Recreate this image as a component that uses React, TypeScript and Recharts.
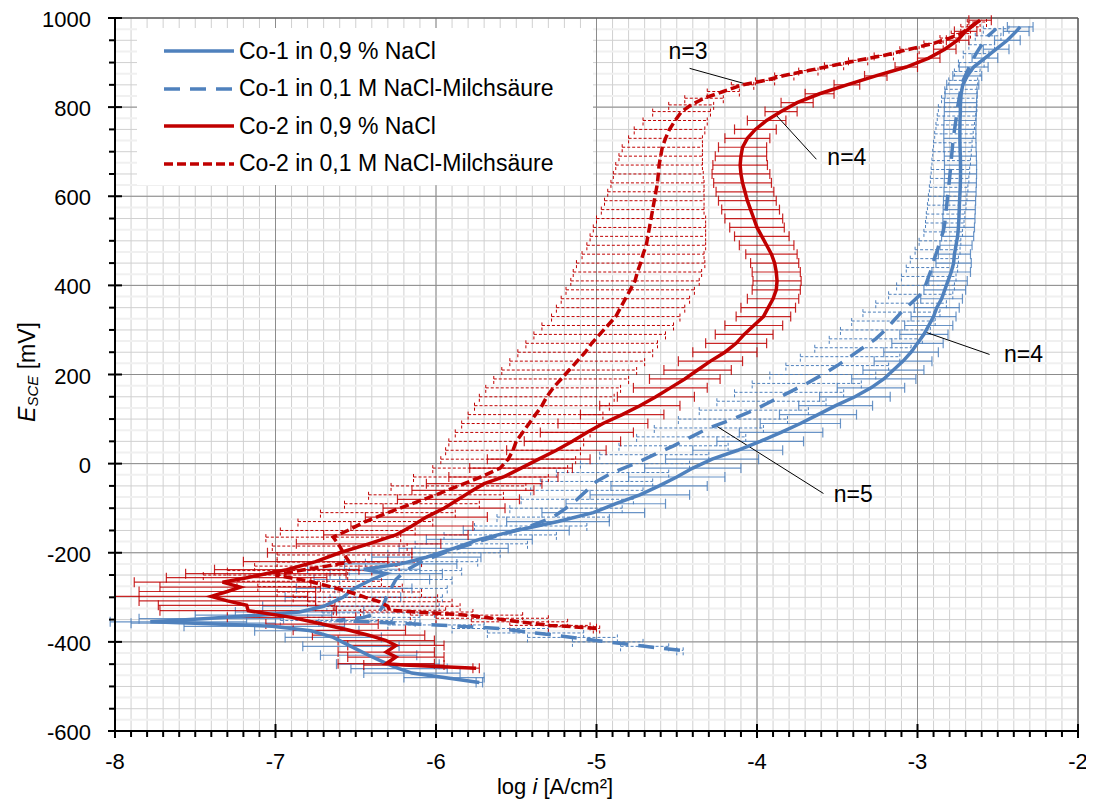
import React from 'react';
import {
  ScatterChart,
  Scatter,
  XAxis,
  YAxis,
  CartesianGrid,
  ErrorBar,
  ReferenceLine,
  ReferenceDot,
} from 'recharts';

const BLUE = '#4F81BD';
const RED = '#C00000';

// rows: [E_SCE in mV, log i, error minus, error plus]
type Row = [number, number, number, number];

const co1Nacl: Row[] = [
  [-491, -5.73, 0.02, 0.02], [-480, -5.95, 0.25, 0.25], [-470, -6.15, 0.3, 0.3], [-460, -6.23, 0.3, 0.3],
  [-450, -6.3, 0.32, 0.32], [-430, -6.42, 0.3, 0.3], [-410, -6.53, 0.3, 0.3], [-390, -6.64, 0.3, 0.3],
  [-375, -6.78, 0.35, 0.3], [-365, -7.02, 0.55, 0.45], [-358, -7.5, 0.4, 0.5], [-355, -7.78, 0.25, 0.6],
  [-348, -7.45, 0.4, 0.5], [-340, -7.1, 0.4, 0.45], [-333, -6.85, 0.4, 0.4], [-320, -6.7, 0.38, 0.38],
  [-300, -6.58, 0.36, 0.36], [-280, -6.51, 0.36, 0.36], [-260, -6.4, 0.36, 0.36], [-247, -6.31, 0.35, 0.35],
  [-237, -6.45, 0.35, 0.35], [-225, -6.22, 0.35, 0.35], [-210, -6.06, 0.34, 0.34], [-190, -5.89, 0.34, 0.34],
  [-170, -5.73, 0.33, 0.33], [-150, -5.5, 0.33, 0.33], [-130, -5.24, 0.32, 0.32], [-110, -5.02, 0.32, 0.32],
  [-90, -4.88, 0.31, 0.31], [-70, -4.73, 0.31, 0.31], [-50, -4.61, 0.3, 0.3], [-30, -4.5, 0.3, 0.3],
  [-10, -4.4, 0.3, 0.3], [10, -4.28, 0.29, 0.29], [30, -4.12, 0.28, 0.28], [50, -3.98, 0.27, 0.27],
  [70, -3.85, 0.26, 0.26], [90, -3.73, 0.25, 0.25], [110, -3.62, 0.24, 0.24], [130, -3.51, 0.23, 0.23],
  [150, -3.39, 0.22, 0.22], [170, -3.29, 0.21, 0.21], [190, -3.21, 0.2, 0.2], [210, -3.15, 0.19, 0.19],
  [230, -3.09, 0.18, 0.18], [250, -3.04, 0.17, 0.17], [270, -3.0, 0.16, 0.16], [290, -2.96, 0.15, 0.15],
  [310, -2.93, 0.15, 0.15], [330, -2.9, 0.14, 0.14], [350, -2.88, 0.14, 0.14], [370, -2.85, 0.13, 0.13],
  [390, -2.83, 0.13, 0.13], [410, -2.81, 0.12, 0.12], [430, -2.79, 0.12, 0.12], [450, -2.775, 0.11, 0.11],
  [470, -2.77, 0.1, 0.1], [490, -2.76, 0.1, 0.1], [510, -2.75, 0.1, 0.1], [530, -2.745, 0.1, 0.1],
  [550, -2.742, 0.1, 0.1], [570, -2.74, 0.1, 0.1], [590, -2.738, 0.1, 0.1], [610, -2.735, 0.1, 0.1],
  [630, -2.733, 0.1, 0.1], [650, -2.732, 0.1, 0.1], [670, -2.732, 0.1, 0.1], [690, -2.733, 0.1, 0.1],
  [710, -2.735, 0.1, 0.1], [730, -2.736, 0.1, 0.1], [750, -2.736, 0.1, 0.1], [770, -2.735, 0.1, 0.1],
  [790, -2.733, 0.1, 0.1], [810, -2.732, 0.1, 0.1], [830, -2.728, 0.1, 0.1], [850, -2.718, 0.1, 0.1],
  [870, -2.69, 0.09, 0.09], [890, -2.65, 0.09, 0.09], [910, -2.58, 0.08, 0.08], [930, -2.51, 0.08, 0.08],
  [950, -2.44, 0.08, 0.08], [970, -2.385, 0.08, 0.08], [980, -2.36, 0.08, 0.08],
];

const co1Milch: Row[] = [
  [-419, -4.48, 0.02, 0.02], [-410, -4.7, 0.15, 0.15], [-400, -4.93, 0.22, 0.22], [-390, -5.15, 0.28, 0.28],
  [-380, -5.38, 0.3, 0.3], [-370, -5.6, 0.3, 0.3], [-362, -6.0, 0.3, 0.3], [-355, -6.43, 0.3, 0.3],
  [-352, -6.62, 0.35, 0.35], [-345, -6.45, 0.35, 0.35], [-335, -6.36, 0.35, 0.35], [-320, -6.33, 0.35, 0.35],
  [-300, -6.31, 0.35, 0.35], [-280, -6.28, 0.35, 0.35], [-260, -6.25, 0.35, 0.35], [-240, -6.19, 0.35, 0.35],
  [-220, -6.09, 0.35, 0.35], [-200, -5.95, 0.35, 0.35], [-180, -5.78, 0.35, 0.35], [-160, -5.6, 0.35, 0.35],
  [-140, -5.41, 0.35, 0.35], [-120, -5.27, 0.35, 0.35], [-100, -5.19, 0.35, 0.35], [-80, -5.12, 0.35, 0.35],
  [-60, -5.06, 0.35, 0.35], [-40, -5.0, 0.35, 0.35], [-20, -4.9, 0.35, 0.35], [0, -4.76, 0.34, 0.34],
  [20, -4.64, 0.34, 0.34], [40, -4.52, 0.34, 0.34], [60, -4.41, 0.34, 0.34], [80, -4.3, 0.34, 0.34],
  [100, -4.15, 0.34, 0.34], [120, -4.02, 0.34, 0.34], [140, -3.91, 0.34, 0.34], [160, -3.8, 0.34, 0.34],
  [180, -3.69, 0.34, 0.34], [200, -3.59, 0.33, 0.33], [220, -3.5, 0.32, 0.32], [240, -3.42, 0.31, 0.31],
  [260, -3.34, 0.3, 0.3], [280, -3.26, 0.29, 0.29], [300, -3.2, 0.28, 0.28], [320, -3.15, 0.26, 0.26],
  [340, -3.1, 0.24, 0.24], [360, -3.04, 0.22, 0.22], [380, -2.98, 0.2, 0.2], [400, -2.95, 0.18, 0.18],
  [420, -2.93, 0.17, 0.17], [440, -2.91, 0.16, 0.16], [460, -2.895, 0.15, 0.15], [480, -2.875, 0.14, 0.14],
  [500, -2.86, 0.13, 0.13], [520, -2.84, 0.12, 0.12], [540, -2.83, 0.12, 0.12], [560, -2.825, 0.12, 0.12],
  [580, -2.818, 0.12, 0.12], [600, -2.812, 0.12, 0.12], [620, -2.806, 0.12, 0.12], [640, -2.8, 0.12, 0.12],
  [660, -2.795, 0.12, 0.12], [680, -2.79, 0.12, 0.12], [700, -2.785, 0.12, 0.12], [720, -2.78, 0.12, 0.12],
  [740, -2.773, 0.12, 0.12], [760, -2.765, 0.12, 0.12], [780, -2.757, 0.12, 0.12], [800, -2.75, 0.12, 0.12],
  [820, -2.74, 0.11, 0.11], [840, -2.73, 0.1, 0.1], [860, -2.715, 0.09, 0.09], [880, -2.69, 0.08, 0.08],
  [900, -2.665, 0.08, 0.08], [920, -2.635, 0.08, 0.08], [940, -2.6, 0.08, 0.08], [960, -2.56, 0.08, 0.08],
  [976, -2.51, 0.08, 0.08],
];

const co2Nacl: Row[] = [
  [-459, -5.75, 0.02, 0.02], [-452, -6.2, 0.25, 0.25], [-449, -6.31, 0.3, 0.3], [-434, -6.25, 0.3, 0.3],
  [-423, -6.31, 0.3, 0.3], [-408, -6.25, 0.3, 0.3], [-397, -6.31, 0.3, 0.3], [-385, -6.42, 0.35, 0.35],
  [-374, -6.54, 0.35, 0.35], [-360, -6.71, 0.35, 0.35], [-345, -6.9, 0.4, 0.4], [-330, -7.17, 0.55, 0.55],
  [-318, -7.18, 0.55, 0.55], [-308, -7.3, 0.55, 0.55], [-298, -7.4, 0.6, 0.6], [-287, -7.3, 0.55, 0.55],
  [-277, -7.22, 0.5, 0.5], [-266, -7.33, 0.55, 0.55], [-256, -7.18, 0.5, 0.5], [-247, -7.06, 0.5, 0.5],
  [-238, -6.93, 0.45, 0.45], [-220, -6.75, 0.45, 0.45], [-200, -6.6, 0.45, 0.45], [-180, -6.42, 0.45, 0.45],
  [-160, -6.25, 0.45, 0.45], [-140, -6.15, 0.38, 0.38], [-120, -6.06, 0.38, 0.38], [-100, -5.95, 0.38, 0.38],
  [-80, -5.86, 0.38, 0.38], [-60, -5.77, 0.38, 0.38], [-45, -5.7, 0.36, 0.36], [-30, -5.58, 0.34, 0.34],
  [-10, -5.47, 0.32, 0.32], [10, -5.36, 0.32, 0.32], [30, -5.25, 0.31, 0.31], [50, -5.15, 0.3, 0.3],
  [70, -5.06, 0.29, 0.29], [90, -4.96, 0.28, 0.28], [110, -4.84, 0.26, 0.26], [130, -4.73, 0.25, 0.25],
  [150, -4.63, 0.24, 0.24], [170, -4.54, 0.23, 0.23], [190, -4.45, 0.22, 0.22], [210, -4.37, 0.21, 0.21],
  [230, -4.29, 0.2, 0.2], [250, -4.2, 0.2, 0.2], [270, -4.13, 0.19, 0.19], [290, -4.08, 0.18, 0.18],
  [310, -4.02, 0.18, 0.18], [330, -3.96, 0.17, 0.17], [350, -3.93, 0.17, 0.17], [370, -3.9, 0.16, 0.16],
  [390, -3.88, 0.15, 0.15], [410, -3.875, 0.15, 0.15], [430, -3.88, 0.15, 0.15], [450, -3.89, 0.15, 0.15],
  [470, -3.91, 0.16, 0.16], [490, -3.94, 0.17, 0.17], [510, -3.97, 0.17, 0.17], [530, -4.0, 0.17, 0.17],
  [550, -4.02, 0.18, 0.18], [570, -4.04, 0.18, 0.18], [590, -4.06, 0.18, 0.18], [610, -4.075, 0.18, 0.18],
  [630, -4.09, 0.18, 0.18], [650, -4.1, 0.18, 0.18], [670, -4.105, 0.17, 0.17], [690, -4.1, 0.16, 0.16],
  [710, -4.09, 0.15, 0.15], [730, -4.06, 0.14, 0.14], [750, -4.01, 0.13, 0.13], [770, -3.94, 0.12, 0.12],
  [790, -3.85, 0.1, 0.1], [810, -3.75, 0.1, 0.1], [830, -3.61, 0.09, 0.09], [850, -3.44, 0.08, 0.08],
  [870, -3.26, 0.07, 0.07], [890, -3.07, 0.07, 0.07], [910, -2.93, 0.07, 0.07], [930, -2.83, 0.07, 0.07],
  [950, -2.75, 0.07, 0.07], [970, -2.7, 0.07, 0.07], [995, -2.61, 0.07, 0.07],
];

const co2Milch: Row[] = [
  [-370, -5.0, 0.02, 0.02], [-366, -5.15, 0.15, 0.15], [-363, -5.29, 0.25, 0.25], [-355, -5.48, 0.3, 0.3],
  [-347, -5.65, 0.35, 0.35], [-340, -5.81, 0.35, 0.35], [-333, -6.12, 0.35, 0.35], [-329, -6.29, 0.35, 0.35],
  [-320, -6.3, 0.45, 0.45], [-310, -6.35, 0.45, 0.45], [-300, -6.44, 0.45, 0.45], [-288, -6.54, 0.45, 0.45],
  [-276, -6.66, 0.45, 0.45], [-264, -6.79, 0.45, 0.45], [-250, -7.0, 0.45, 0.45], [-240, -6.85, 0.45, 0.45],
  [-230, -6.68, 0.45, 0.45], [-221, -6.54, 0.45, 0.45], [-205, -6.57, 0.42, 0.42], [-185, -6.6, 0.42, 0.42],
  [-165, -6.64, 0.42, 0.42], [-150, -6.55, 0.42, 0.42], [-130, -6.44, 0.42, 0.42], [-110, -6.3, 0.42, 0.42],
  [-90, -6.15, 0.42, 0.42], [-70, -6.0, 0.42, 0.42], [-50, -5.86, 0.42, 0.42], [-30, -5.72, 0.42, 0.42],
  [-10, -5.6, 0.42, 0.42], [10, -5.55, 0.42, 0.42], [30, -5.52, 0.42, 0.42], [50, -5.5, 0.42, 0.42],
  [70, -5.46, 0.42, 0.42], [90, -5.42, 0.42, 0.42], [110, -5.38, 0.42, 0.42], [130, -5.34, 0.42, 0.42],
  [150, -5.31, 0.42, 0.42], [170, -5.27, 0.42, 0.42], [190, -5.22, 0.42, 0.42], [210, -5.17, 0.42, 0.42],
  [230, -5.12, 0.42, 0.42], [250, -5.07, 0.42, 0.42], [270, -5.03, 0.41, 0.41], [290, -4.98, 0.41, 0.41],
  [310, -4.93, 0.41, 0.41], [330, -4.88, 0.4, 0.4], [350, -4.85, 0.4, 0.4], [370, -4.82, 0.4, 0.4],
  [390, -4.79, 0.4, 0.4], [410, -4.76, 0.4, 0.4], [430, -4.745, 0.4, 0.4], [450, -4.725, 0.4, 0.4],
  [470, -4.71, 0.38, 0.38], [490, -4.69, 0.37, 0.37], [510, -4.68, 0.36, 0.36], [530, -4.67, 0.35, 0.35],
  [550, -4.66, 0.34, 0.34], [570, -4.65, 0.32, 0.32], [590, -4.64, 0.31, 0.31], [610, -4.63, 0.3, 0.3],
  [630, -4.62, 0.29, 0.29], [650, -4.615, 0.28, 0.28], [670, -4.61, 0.27, 0.27], [690, -4.6, 0.26, 0.26],
  [710, -4.59, 0.25, 0.25], [730, -4.57, 0.23, 0.23], [750, -4.545, 0.22, 0.22], [770, -4.51, 0.2, 0.2],
  [790, -4.47, 0.18, 0.18], [805, -4.41, 0.14, 0.14], [820, -4.33, 0.12, 0.12], [835, -4.21, 0.1, 0.1],
  [850, -4.09, 0.07, 0.07], [860, -3.95, 0.06, 0.06], [871, -3.83, 0.06, 0.06], [882, -3.68, 0.06, 0.06],
  [894, -3.52, 0.06, 0.06], [905, -3.37, 0.06, 0.06], [916, -3.21, 0.06, 0.06], [930, -3.05, 0.06, 0.06],
  [943, -2.9, 0.06, 0.06], [955, -2.8, 0.06, 0.06], [965, -2.73, 0.06, 0.06], [980, -2.67, 0.06, 0.06],
  [991, -2.63, 0.06, 0.06],
];

const seriesNames = [
  'Co-1 in 0,9 % NaCl',
  'Co-1 in 0,1 M NaCl-Milchsäure',
  'Co-2 in 0,9 % NaCl',
  'Co-2 in 0,1 M NaCl-Milchsäure',
];

// axis ticks: minor every 0.1 / 50 mV, labels only on the majors
const xMajor = [-8, -7, -6, -5, -4, -3, -2];
const yMajor = [-600, -400, -200, 0, 200, 400, 600, 800, 1000];
const xTicks = Array.from({ length: 61 }, (_, i) => Math.round((-8 + i * 0.1) * 10) / 10);
const yTicks = Array.from({ length: 33 }, (_, i) => -600 + i * 50);
const yFaint = Array.from({ length: 32 }, (_, i) => -575 + i * 50);

// annotation labels: [text, x, y] and their leader lines
const notes: [string, number, number][] = [
  ['n=3', -4.43, 925],
  ['n=4', -3.44, 688],
  ['n=4', -2.34, 246],
  ['n=5', -3.4, -68],
];
const leaders: [number, number, number, number][] = [
  [-4.42, 887, -4.08, 853],
  [-3.886, 784, -3.63, 683],
  [-2.95, 295, -2.551, 245],
  [-4.26, 86, -3.586, -67],
];

const toPoints = (rows: Row[]) =>
  rows.map(([e, li, lo, hi]) => ({ x: li, y: e, ex: [lo, hi] }));

const FONT = '"Liberation Sans", Arial, sans-serif';

const XTick = (props: any) => {
  const { x, y, payload } = props;
  const v = payload.value;
  const major = Math.abs(v - Math.round(v)) < 1e-6;
  return (
    <g>
      {major ? (
        <line x1={x} x2={x} y1={y - 7} y2={y + 7} stroke="#000" strokeWidth={2} />
      ) : (
        <line x1={x} x2={x} y1={y} y2={y + 6} stroke="#000" strokeWidth={2} />
      )}
      {major && (
        <text x={x} y={y + 38} textAnchor="middle" fontSize={22} fontFamily={FONT} fill="#000">
          {String(Math.round(v))}
        </text>
      )}
    </g>
  );
};

const YTick = (props: any) => {
  const { x, y, payload } = props;
  const v = payload.value;
  const major = v % 200 === 0;
  return (
    <g>
      {major ? (
        <line x1={x - 7} x2={x + 7} y1={y} y2={y} stroke="#000" strokeWidth={2} />
      ) : (
        <line x1={x - 6} x2={x} y1={y} y2={y} stroke="#000" strokeWidth={2} />
      )}
      {major && (
        <text x={x - 24} y={y + 9} textAnchor="end" fontSize={22} fontFamily={FONT} fill="#000">
          {String(v)}
        </text>
      )}
    </g>
  );
};

const noDot = () => <g />;

const Legend = () => {
  const rows = [
    { c: BLUE, dash: undefined },
    { c: BLUE, dash: '16 10' },
    { c: RED, dash: undefined },
    { c: RED, dash: '9 4' },
  ];
  return (
    <div
      style={{
        position: 'absolute',
        left: 129,
        top: 20,
        width: 456,
        height: 157,
        background: '#fff',
        fontFamily: FONT,
        fontSize: 23,
      }}
    >
      {rows.map((r, i) => (
        <div key={i} style={{ position: 'absolute', left: 26, top: 23 + i * 37.5 - 15, height: 30, display: 'flex', alignItems: 'center' }}>
          <svg width={72} height={10} style={{ marginRight: 4 }}>
            <line x1={1} x2={71} y1={5} y2={5} stroke={r.c} strokeWidth={3.5} strokeDasharray={r.dash} />
          </svg>
          <span style={{ whiteSpace: 'nowrap' }}>{seriesNames[i]}</span>
        </div>
      ))}
    </div>
  );
};

export default function App() {
  return (
    <div style={{ position: 'relative', width: 1086, height: 794, fontFamily: FONT }}>
      <ScatterChart width={1086} height={794} margin={{ top: 10, right: 16, bottom: 31, left: 47 }}>
        {yFaint.map((v) => (
          <ReferenceLine key={'f' + v} y={v} stroke="#F0F0F0" strokeWidth={2} />
        ))}
        <CartesianGrid stroke="#D0D0D0" strokeWidth={1} />
        {xMajor.slice(1, -1).map((v) => (
          <ReferenceLine key={'x' + v} x={v} stroke="#8C8C8C" strokeWidth={1} />
        ))}
        {yMajor.slice(1, -1).map((v) => (
          <ReferenceLine key={'y' + v} y={v} stroke="#8C8C8C" strokeWidth={1} />
        ))}
        <ReferenceLine x={-2} stroke="#595959" strokeWidth={1.5} />
        <ReferenceLine y={1000} stroke="#595959" strokeWidth={1.5} />
        <XAxis
          type="number"
          dataKey="x"
          domain={[-8, -2]}
          ticks={xTicks}
          interval={0}
          allowDataOverflow
          tickSize={0}
          tickMargin={0}
          tickLine={false}
          axisLine={{ stroke: '#000', strokeWidth: 2 }}
          tick={<XTick />}
          height={40}
          label={(p: any) => {
            const vb = p.viewBox || {};
            return (
              <text x={vb.x + 440} y={vb.y + 63} textAnchor="middle" fontSize={22} fontFamily={FONT} fill="#000">
                log <tspan fontStyle="italic">i</tspan> [A/cm²]
              </text>
            );
          }}
        />
        <YAxis
          type="number"
          dataKey="y"
          domain={[-600, 1000]}
          ticks={yTicks}
          interval={0}
          allowDataOverflow
          tickSize={0}
          tickMargin={0}
          tickLine={false}
          axisLine={{ stroke: '#000', strokeWidth: 2 }}
          tick={<YTick />}
          width={60}
          label={() => (
            <text
              x={0}
              y={0}
              transform="translate(19 364) rotate(-90)"
              textAnchor="middle"
              dominantBaseline="central"
              fontSize={23}
              fontFamily={FONT}
              fill="#000"
            >
              <tspan fontStyle="italic">E</tspan>
              <tspan fontStyle="italic" fontSize={15} dy={5}>SCE</tspan>
              <tspan dy={-5}> [mV]</tspan>
            </text>
          )}
        />
        <Scatter
          data={toPoints(co1Nacl)}
          isAnimationActive={false}
          shape={noDot}
          line={{ stroke: BLUE, strokeWidth: 3.5 }}
          lineJointType="linear"
          legendType="none"
        >
          <ErrorBar dataKey="ex" direction="x" width={5} stroke={BLUE} strokeWidth={1.2} strokeOpacity={0.85} isAnimationActive={false} />
        </Scatter>
        <Scatter
          data={toPoints(co1Milch)}
          isAnimationActive={false}
          shape={noDot}
          line={{ stroke: BLUE, strokeWidth: 3.5, strokeDasharray: '16 10' }}
          lineJointType="linear"
          legendType="none"
        >
          <ErrorBar dataKey="ex" direction="x" width={5} stroke={BLUE} strokeWidth={1} strokeDasharray="3 2" isAnimationActive={false} />
        </Scatter>
        <Scatter
          data={toPoints(co2Nacl)}
          isAnimationActive={false}
          shape={noDot}
          line={{ stroke: RED, strokeWidth: 3.5 }}
          lineJointType="linear"
          legendType="none"
        >
          <ErrorBar dataKey="ex" direction="x" width={5} stroke={RED} strokeWidth={1.2} strokeOpacity={0.85} isAnimationActive={false} />
        </Scatter>
        <Scatter
          data={toPoints(co2Milch)}
          isAnimationActive={false}
          shape={noDot}
          line={{ stroke: RED, strokeWidth: 3.5, strokeDasharray: '9 4' }}
          lineJointType="linear"
          legendType="none"
        >
          <ErrorBar dataKey="ex" direction="x" width={5} stroke={RED} strokeWidth={1} strokeDasharray="3 2" isAnimationActive={false} />
        </Scatter>
        {leaders.map(([x1, y1, x2, y2], i) => (
          <ReferenceLine
            key={'l' + i}
            segment={[{ x: x1, y: y1 }, { x: x2, y: y2 }]}
            stroke="#000"
            strokeWidth={1}
          />
        ))}
        {notes.map(([t, x, y], i) => (
          <ReferenceDot
            key={'n' + i}
            x={x}
            y={y}
            r={0}
            shape={(p: any) => (
              <text x={p.cx} y={p.cy + 8} textAnchor="middle" fontSize={23} fontFamily={FONT} fill="#000">
                {t}
              </text>
            )}
          />
        ))}
      </ScatterChart>
      <Legend />
    </div>
  );
}
